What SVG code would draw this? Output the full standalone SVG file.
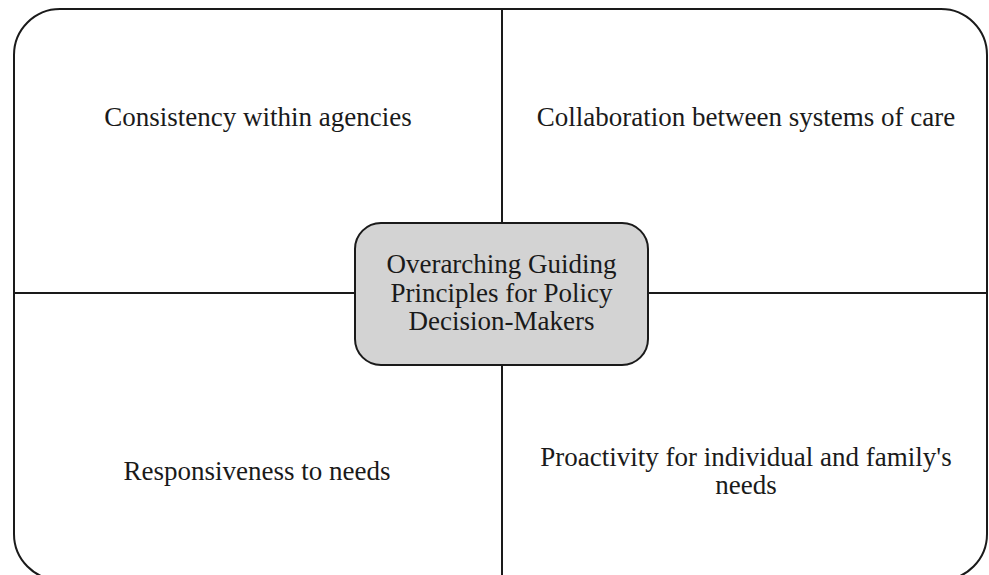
<svg xmlns="http://www.w3.org/2000/svg" width="989" height="575" viewBox="0 0 989 575">
<style>
text{font-family:"Liberation Serif","Times New Roman",serif;font-size:27px;fill:#1a1a1a;text-anchor:middle}
.ln{stroke:#1a1a1a;stroke-width:2;fill:none}
</style>
<rect width="989" height="575" fill="#fff"/>
<g id="frame"><rect class="ln" x="14" y="9" width="973" height="571" rx="46" ry="46"/></g>
<g id="connectors">
<line class="ln" x1="502" y1="9" x2="502" y2="575"/>
<line class="ln" x1="14" y1="293" x2="987" y2="293"/>
</g>
<g id="center">
<rect x="355" y="223" width="293" height="142" rx="26" ry="26" fill="#d3d3d3" stroke="#1a1a1a" stroke-width="2"/>
<text x="501.5" y="273">Overarching Guiding</text>
<text x="501.5" y="302">Principles for Policy</text>
<text x="501.5" y="330">Decision-Makers</text>
</g>
<g id="q1"><text x="258" y="126">Consistency within agencies</text></g>
<g id="q2"><text x="746" y="126">Collaboration between systems of care</text></g>
<g id="q3"><text x="257" y="480">Responsiveness to needs</text></g>
<g id="q4"><text x="746" y="466">Proactivity for individual and family's</text><text x="746" y="494">needs</text></g>
</svg>
